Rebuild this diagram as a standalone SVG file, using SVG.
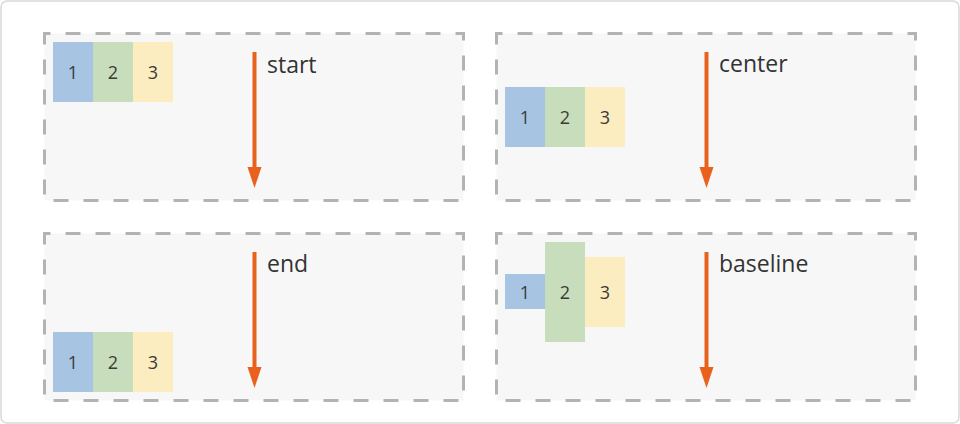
<svg xmlns="http://www.w3.org/2000/svg" width="960" height="424" viewBox="0 0 960 424">
<style>
.frame{fill:#ffffff;stroke:#d9d9d9;stroke-width:1.5}
.panel{fill:#f7f7f7;stroke:#b3b3b3;stroke-width:3;stroke-dasharray:15 15;stroke-dashoffset:9}
.b1{fill:#a7c4e2}
.b2{fill:#c8ddbb}
.b3{fill:#fcedc0}
.num{font-family:"Open Sans","Noto Sans",sans-serif;font-size:18px;fill:#3a3a3a;text-anchor:middle}
.lbl{font-family:"Open Sans","Noto Sans",sans-serif;font-size:23px;fill:#333333}
.arr{stroke:#e8621d;stroke-width:4;fill:none}
.head{fill:#e8621d}
</style>
<rect class="frame" x="1" y="1" width="958" height="422" rx="6"/>
<g id="panel-start">
<rect class="panel" x="44.5" y="33.5" width="419" height="167"/>
<rect class="b1" x="53" y="42" width="40" height="60"/>
<rect class="b2" x="93" y="42" width="40" height="60"/>
<rect class="b3" x="133" y="42" width="40" height="60"/>
<text class="num" x="73" y="78.5">1</text>
<text class="num" x="113" y="78.5">2</text>
<text class="num" x="153" y="78.5">3</text>
<text class="lbl" x="267" y="72.5">start</text>
</g>
<g id="panel-center">
<rect class="panel" x="496.5" y="33.5" width="419" height="167"/>
<rect class="b1" x="505" y="87" width="40" height="60"/>
<rect class="b2" x="545" y="87" width="40" height="60"/>
<rect class="b3" x="585" y="87" width="40" height="60"/>
<text class="num" x="525" y="123.5">1</text>
<text class="num" x="565" y="123.5">2</text>
<text class="num" x="605" y="123.5">3</text>
<text class="lbl" x="719" y="72">center</text>
</g>
<g id="panel-end">
<rect class="panel" x="44.5" y="233.5" width="419" height="167"/>
<rect class="b1" x="53" y="332" width="40" height="60"/>
<rect class="b2" x="93" y="332" width="40" height="60"/>
<rect class="b3" x="133" y="332" width="40" height="60"/>
<text class="num" x="73" y="368.5">1</text>
<text class="num" x="113" y="368.5">2</text>
<text class="num" x="153" y="368.5">3</text>
<text class="lbl" x="267" y="272">end</text>
</g>
<g id="panel-baseline">
<rect class="panel" x="496.5" y="233.5" width="419" height="167"/>
<rect class="b1" x="505" y="274" width="40" height="35"/>
<rect class="b2" x="545" y="242" width="40" height="100"/>
<rect class="b3" x="585" y="257" width="40" height="70"/>
<text class="num" x="525" y="298.5">1</text>
<text class="num" x="565" y="298.5">2</text>
<text class="num" x="605" y="298.5">3</text>
<text class="lbl" x="719" y="272">baseline</text>
</g>
<g id="connectors">
<line class="arr" x1="254.5" y1="52" x2="254.5" y2="170"/>
<polygon class="head" points="247.5,167 261.5,167 254.5,188"/>
<line class="arr" x1="706.5" y1="52" x2="706.5" y2="170"/>
<polygon class="head" points="699.5,167 713.5,167 706.5,188"/>
<line class="arr" x1="254.5" y1="252" x2="254.5" y2="370"/>
<polygon class="head" points="247.5,367 261.5,367 254.5,388"/>
<line class="arr" x1="706.5" y1="252" x2="706.5" y2="370"/>
<polygon class="head" points="699.5,367 713.5,367 706.5,388"/>
</g>
</svg>
